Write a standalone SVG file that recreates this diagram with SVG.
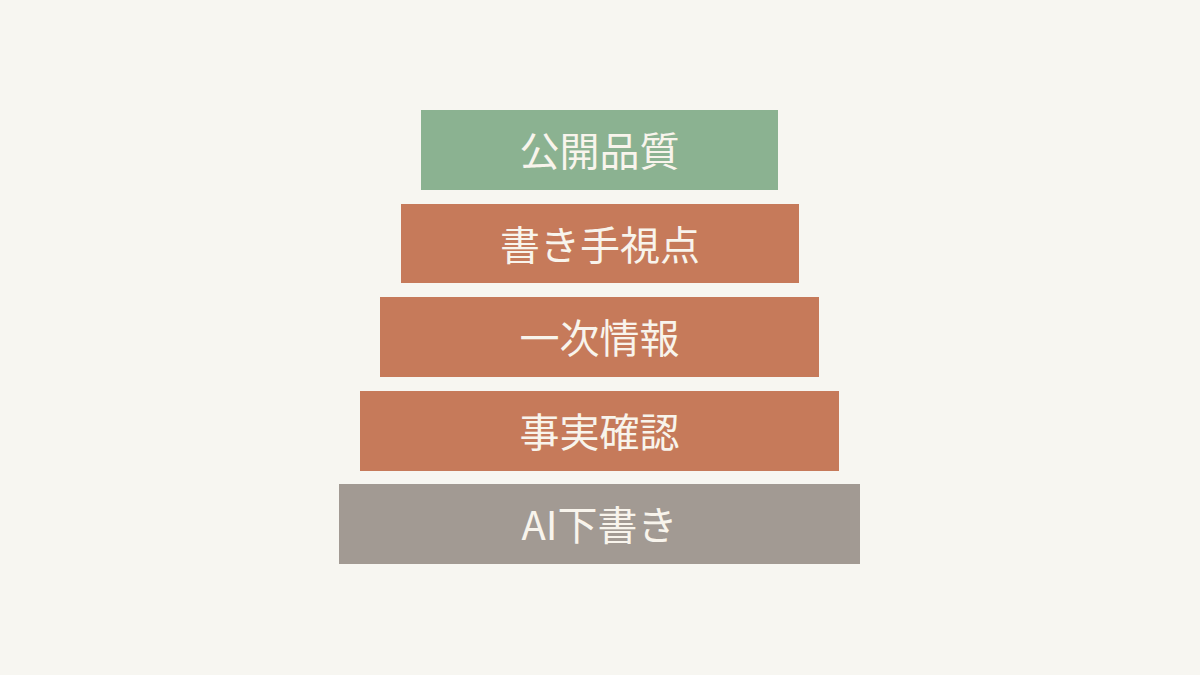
<svg xmlns="http://www.w3.org/2000/svg" width="1200" height="675" viewBox="0 0 1200 675">
<style>
.t{font-family:"Noto Sans CJK JP","Noto Sans",sans-serif;font-size:40px;font-weight:400;fill:#f8f4ec;text-anchor:middle}
.g{fill:#8bb291}
.o{fill:#c67a5a}
.a{fill:#a29a93}
</style>
<rect width="1200" height="675" fill="#f7f6f1"/>
<g id="n1"><rect class="g" x="421" y="110" width="357" height="80"/><text class="t" x="599.5" y="166">公開品質</text></g>
<g id="n2"><rect class="o" x="401" y="204" width="398" height="79"/><text class="t" x="600" y="259.5">書き手視点</text></g>
<g id="n3"><rect class="o" x="380" y="297" width="439" height="80"/><text class="t" x="599.5" y="353">一次情報</text></g>
<g id="n4"><rect class="o" x="360" y="391" width="479" height="80"/><text class="t" x="599.5" y="447">事実確認</text></g>
<g id="n5"><rect class="a" x="339" y="484" width="521" height="80"/><text class="t" x="599.5" y="540">AI下書き</text></g>
<g id="connectors"/>
</svg>
